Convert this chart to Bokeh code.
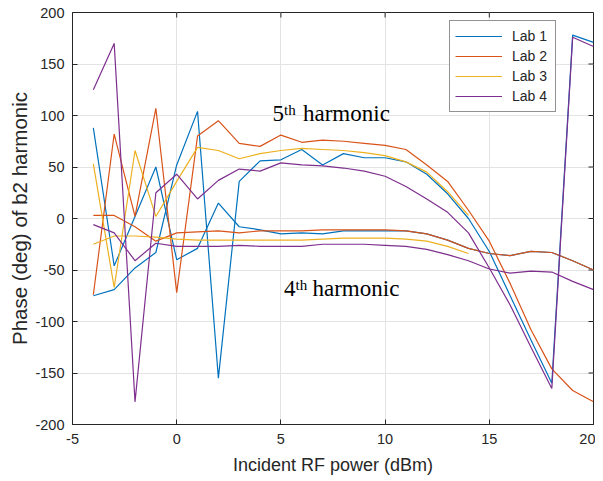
from bokeh.plotting import figure
from bokeh.models import Legend, LegendItem, Range1d, FixedTicker, Label
from bokeh.embed import file_html
from bokeh.resources import INLINE

# ---------------- data ----------------
power = [-4, -3, -2, -1, 0, 1, 2, 3, 4, 5, 6, 7, 8, 9, 10, 11, 12, 13, 14, 15, 16, 17, 18, 19, 20]
power_lab3 = [-4, -3, -2, -1, 0, 1, 2, 3, 4, 5, 6, 7, 8, 9, 10, 11, 12, 13, 14]

lab1_a = [88, -46, 2, 50, -40, -29, 15, -8, -11, -15, -14, -15, -12, -12, -12, -12, -15, -21, -29, -34, -36, -32, -33, -41, -50]
lab1_b = [-75, -69, -48, -33, 52, 104, -155, 36, 56, 57, 67, 52, 63, 59, 59, 55, 43, 24, 0, -32, -75, -118, -160, 178, 171]

lab2_a = [-74, 82, 2, 107, -72, 80, 95, 73, 70, 81, 74, 76, 75, 73, 71, 67, 52, 36, 8, -22, -63, -108, -146, -167, -178]
lab2_b = [3, 3, -8, -22, -14, -13, -12, -14, -12, -12, -12, -11, -11, -11, -11, -12, -15, -21, -29, -34, -36, -32, -33, -41, -50]

lab3_a = [53, -67, 66, 2, 36, 69, 66, 58, 63, 66, 68, 67, 66, 64, 61, 55, 45, 26, 3]
lab3_b = [-25, -17, -17, -18, -20, -21, -21, -21, -21, -21, -21, -20, -19, -19, -19, -20, -22, -27, -34]

lab4_a = [125, 170, -178, 25, 43, 19, 37, 48, 46, 54, 52, 51, 49, 46, 41, 31, 19, 6, -14, -48, -84, -125, -165, 176, 167]
lab4_b = [-6, -14, -41, -24, -27, -27, -27, -26, -27, -27, -27, -25, -25, -25, -26, -27, -30, -35, -41, -49, -53, -51, -52, -61, -69]

lab_names = ["Lab 1", "Lab 2", "Lab 3", "Lab 4"]
lab_colors = ["#0072BD", "#D95319", "#EDB120", "#7E2F8E"]

x_tick_values = [-5, 0, 5, 10, 15, 20]
x_tick_labels = ["-5", "0", "5", "10", "15", "20"]
y_tick_values = [-200, -150, -100, -50, 0, 50, 100, 150, 200]
y_tick_labels = ["-200", "-150", "-100", "-50", "0", "50", "100", "150", "200"]
x_min, x_max = -5, 20
y_min, y_max = -200, 200

# ---------------- figure ----------------
AX = "#262626"
FONT = "Liberation Sans"

p = figure(width=595, height=478, output_backend="svg", toolbar_location=None,
           x_range=Range1d(x_min, x_max), y_range=Range1d(y_min, y_max),
           min_border_left=72, min_border_right=2, min_border_top=12,
           min_border_bottom=54)
p.background_fill_color = "white"
p.border_fill_color = "white"
p.outline_line_color = AX
p.outline_line_width = 1

p.xaxis.ticker = FixedTicker(ticks=x_tick_values)
p.yaxis.ticker = FixedTicker(ticks=y_tick_values)
p.xaxis.major_label_overrides = dict(zip(x_tick_values, x_tick_labels))
p.yaxis.major_label_overrides = dict(zip(y_tick_values, y_tick_labels))
p.xgrid.ticker = FixedTicker(ticks=x_tick_values)
p.ygrid.ticker = FixedTicker(ticks=y_tick_values)
p.grid.grid_line_color = "#E3E3E3"
p.grid.grid_line_width = 1

for ax in list(p.xaxis) + list(p.yaxis):
    ax.major_tick_in = 5
    ax.major_tick_out = 0
    ax.minor_tick_in = 0
    ax.minor_tick_out = 0
    ax.axis_line_color = AX
    ax.major_tick_line_color = AX
    ax.major_label_text_font = FONT
    ax.major_label_text_font_size = "14.5px"
    ax.major_label_text_color = AX
    ax.axis_label_text_font = FONT
    ax.axis_label_text_font_style = "normal"
    ax.axis_label_text_color = AX

p.xaxis.axis_label = "Incident RF power (dBm)"
p.yaxis.axis_label = "Phase (deg) of b2 harmonic"
p.xaxis.axis_label_text_font_size = "18px"
p.yaxis.axis_label_text_font_size = "20.5px"
p.xaxis.major_label_standoff = 9
p.xaxis.axis_label_standoff = 8
p.yaxis.major_label_standoff = 8
p.yaxis.axis_label_standoff = 1

# inward tick marks on the top and right edges of the box
tick_dy = 5 * (y_max - y_min) / 412.0
tick_dx = 5 * (x_max - x_min) / 521.0
p.segment(x0=x_tick_values, y0=[y_max] * len(x_tick_values),
          x1=x_tick_values, y1=[y_max - tick_dy] * len(x_tick_values),
          line_color=AX, line_width=1)
p.segment(x0=[x_max] * len(y_tick_values), y0=y_tick_values,
          x1=[x_max - tick_dx] * len(y_tick_values), y1=y_tick_values,
          line_color=AX, line_width=1)

# ---------------- lines ----------------
series = [
    (power, lab1_a, lab1_b),
    (power, lab2_a, lab2_b),
    (power_lab3, lab3_a, lab3_b),
    (power, lab4_a, lab4_b),
]
items = []
for (xs, ya, yb), name, col in zip(series, lab_names, lab_colors):
    ra = p.line(xs, ya, line_color=col, line_width=1.2)
    rb = p.line(xs, yb, line_color=col, line_width=1.2)
    items.append(LegendItem(label=name, renderers=[ra]))

legend = Legend(items=items, location=(377, 312),
                border_line_color=AX, border_line_width=1,
                background_fill_color="white", background_fill_alpha=1,
                label_text_font=FONT, label_text_font_size="14px",
                label_text_color=AX, glyph_width=47, glyph_height=20,
                label_height=20, label_standoff=10, padding=5, spacing=0,
                margin=0, label_width=38)
p.add_layout(legend)

# ---------------- harmonic annotations ----------------
SERIF = "Liberation Serif"
def add_text(x, y, t, size):
    p.add_layout(Label(x=x, y=y, text=t, text_font=SERIF, text_font_size=size,
                       text_color="black", text_baseline="alphabetic",
                       text_align="left"))

add_text(4.597, 101.6, "5", "23px")
add_text(5.149, 105.3, "th", "15px")
add_text(6.06, 101.6, "harmonic", "23px")

add_text(5.149, -67.8, "4", "23px")
add_text(5.70, -64.1, "th", "15px")
add_text(6.516, -67.8, "harmonic", "23px")

open("out.html", "w").write(file_html(p, INLINE))
